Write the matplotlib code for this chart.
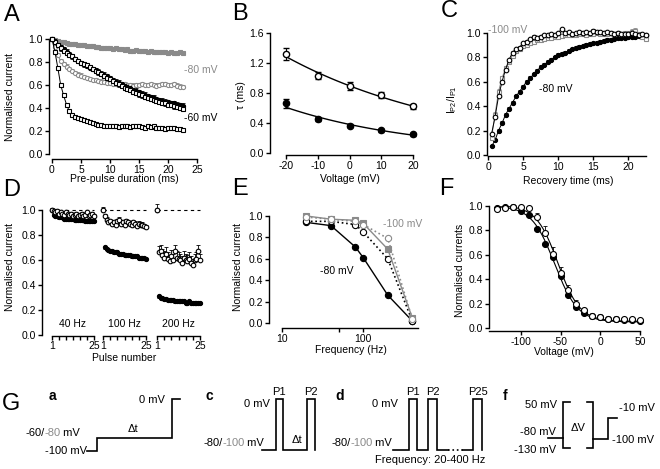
import numpy as np
import matplotlib
matplotlib.use('Agg')
import matplotlib.pyplot as plt
from matplotlib.ticker import FixedLocator, FuncFormatter, MultipleLocator, FormatStrFormatter

plt.rcParams['font.family'] = ['Liberation Sans', 'DejaVu Sans']
plt.rcParams['mathtext.fontset'] = 'custom'
plt.rcParams['mathtext.rm'] = 'Liberation Sans'
plt.rcParams['axes.unicode_minus'] = False
plt.rcParams['axes.linewidth'] = 1.0

GREY = '#8a8a8a'

# ---------------- data ----------------
# A: development of inactivation
a_time = np.arange(0, 23, 0.5)
a_grey_filled = [1.00, 0.99, 0.98, 0.975, 0.97, 0.965, 0.96, 0.96, 0.955, 0.95,
                 0.95, 0.945, 0.94, 0.94, 0.935, 0.93, 0.93, 0.925, 0.925, 0.92,
                 0.92, 0.915, 0.92, 0.91, 0.91, 0.905, 0.91, 0.90, 0.90, 0.905,
                 0.90, 0.895, 0.90, 0.89, 0.895, 0.89, 0.89, 0.885, 0.89, 0.885,
                 0.88, 0.885, 0.88, 0.88, 0.885, 0.88]
a_grey_open = [1.00, 0.93, 0.86, 0.81, 0.78, 0.76, 0.74, 0.72, 0.705, 0.69,
               0.68, 0.67, 0.66, 0.65, 0.645, 0.64, 0.635, 0.63, 0.625, 0.62,
               0.615, 0.61, 0.61, 0.605, 0.60, 0.605, 0.60, 0.60, 0.595, 0.60,
               0.60, 0.605, 0.60, 0.60, 0.605, 0.60, 0.595, 0.60, 0.605, 0.61,
               0.60, 0.60, 0.605, 0.595, 0.585, 0.58]
a_black_filled = [1.00, 0.98, 0.95, 0.93, 0.91, 0.89, 0.87, 0.85, 0.825, 0.805,
                  0.79, 0.78, 0.765, 0.75, 0.74, 0.73, 0.715, 0.70, 0.69, 0.675,
                  0.66, 0.645, 0.63, 0.62, 0.605, 0.59, 0.58, 0.57, 0.56, 0.55,
                  0.535, 0.525, 0.515, 0.505, 0.495, 0.49, 0.48, 0.47, 0.465, 0.455,
                  0.45, 0.445, 0.44, 0.43, 0.425, 0.42]
a_black_open = [1.00, 0.97, 0.95, 0.92, 0.90, 0.88, 0.865, 0.85, 0.83, 0.81,
                0.795, 0.78, 0.77, 0.755, 0.74, 0.725, 0.71, 0.695, 0.68, 0.665,
                0.65, 0.635, 0.62, 0.605, 0.59, 0.575, 0.565, 0.555, 0.54, 0.53,
                0.52, 0.51, 0.50, 0.49, 0.48, 0.47, 0.46, 0.455, 0.445, 0.44,
                0.43, 0.425, 0.415, 0.41, 0.40, 0.395]
a_black_fast = [1.00, 0.89, 0.75, 0.60, 0.51, 0.43, 0.37, 0.34, 0.325, 0.315,
                0.305, 0.30, 0.29, 0.28, 0.27, 0.26, 0.255, 0.25, 0.245, 0.24,
                0.245, 0.24, 0.24, 0.235, 0.24, 0.245, 0.24, 0.235, 0.24, 0.245,
                0.24, 0.235, 0.23, 0.24, 0.235, 0.24, 0.23, 0.225, 0.23, 0.22,
                0.225, 0.23, 0.225, 0.22, 0.215, 0.21]

# B: time constants
b_volt = [-20, -10, 0, 10, 20]
b_tau_open = [1.32, 1.03, 0.89, 0.77, 0.62]
b_err_open = [0.08, 0.05, 0.05, 0.04, 0.03]
b_tau_filled = [0.66, 0.45, 0.36, 0.30, 0.25]
b_err_filled = [0.06, 0.03, 0.02, 0.02, 0.02]

# C: recovery from inactivation
c_time = np.arange(0.5, 23, 0.5)
c_black_open = [0.17, 0.31, 0.48, 0.60, 0.70, 0.78, 0.84, 0.87, 0.88, 0.92,
                0.93, 0.95, 0.97, 0.96, 0.97, 0.98, 0.985, 0.99, 0.98, 1.00,
                1.03, 1.00, 1.01, 0.995, 1.00, 1.005, 1.00, 1.01, 1.00, 1.02,
                1.01, 1.01, 1.00, 1.01, 1.00, 0.99, 1.00, 0.99, 0.995, 0.99,
                1.00, 0.99, 0.98, 0.99, 0.98]
c_grey = [0.14, 0.33, 0.52, 0.63, 0.71, 0.76, 0.81, 0.85, 0.87, 0.89,
          0.905, 0.92, 0.93, 0.94, 0.945, 0.95, 0.96, 0.96, 0.97, 0.97,
          0.975, 0.98, 0.98, 0.985, 0.98, 0.99, 0.99, 0.985, 0.99, 0.99,
          1.00, 0.99, 0.995, 0.99, 1.00, 0.99, 1.00, 0.99, 1.00, 1.00,
          1.01, 1.02, 0.99, 0.97, 0.95]
c_black_filled = [0.07, 0.12, 0.20, 0.26, 0.33, 0.38, 0.43, 0.48, 0.52, 0.56,
                  0.60, 0.63, 0.66, 0.69, 0.72, 0.74, 0.76, 0.78, 0.80, 0.82,
                  0.83, 0.84, 0.855, 0.865, 0.875, 0.885, 0.89, 0.90, 0.91, 0.915,
                  0.92, 0.93, 0.935, 0.94, 0.945, 0.95, 0.955, 0.96, 0.96, 0.965,
                  0.97, 0.97, 0.975, 0.975, 0.98]

# D: trains of 25 pulses
d_pulse = np.arange(1, 26)
d_groups = ['40 Hz', '100 Hz', '200 Hz']
d_open = [
    [1.00, 0.99, 0.98, 0.99, 0.97, 0.98, 0.97, 0.96, 0.98, 0.97, 0.96, 0.97, 0.95,
     0.96, 0.97, 0.95, 0.96, 0.97, 0.95, 0.96, 0.98, 0.95, 0.96, 0.97, 0.95],
    [1.00, 0.95, 0.92, 0.90, 0.91, 0.89, 0.90, 0.88, 0.91, 0.92, 0.89, 0.90, 0.88,
     0.91, 0.90, 0.89, 0.88, 0.90, 0.89, 0.87, 0.89, 0.88, 0.88, 0.87, 0.86],
    [1.00, 0.66, 0.67, 0.64, 0.62, 0.65, 0.61, 0.59, 0.63, 0.60, 0.67, 0.62, 0.61,
     0.60, 0.58, 0.62, 0.60, 0.59, 0.61, 0.58, 0.56, 0.60, 0.61, 0.67, 0.60],
]
d_filled = [
    [1.00, 0.96, 0.95, 0.95, 0.94, 0.94, 0.94, 0.93, 0.93, 0.93, 0.93, 0.93, 0.93,
     0.92, 0.92, 0.92, 0.92, 0.92, 0.92, 0.91, 0.91, 0.91, 0.91, 0.91, 0.91],
    [1.00, 0.70, 0.69, 0.68, 0.67, 0.67, 0.66, 0.66, 0.66, 0.65, 0.65, 0.65, 0.64,
     0.64, 0.64, 0.64, 0.63, 0.63, 0.63, 0.63, 0.62, 0.62, 0.62, 0.62, 0.61],
    [1.00, 0.31, 0.30, 0.30, 0.29, 0.29, 0.28, 0.28, 0.28, 0.28, 0.27, 0.27, 0.27,
     0.27, 0.27, 0.27, 0.26, 0.26, 0.27, 0.26, 0.26, 0.26, 0.26, 0.26, 0.26],
]
d_err_open = [0.015, 0.02, 0.05]

# E: frequency dependence
e_freq = [20, 40, 80, 100, 200, 400]
e_black_filled = [0.94, 0.91, 0.71, 0.61, 0.26, 0.02]
e_black_open = [0.95, 0.95, 0.92, 0.85, 0.60, 0.02]
e_grey_filled = [1.00, 0.97, 0.96, 0.93, 0.69, 0.05]
e_grey_open = [0.99, 0.97, 0.95, 0.92, 0.79, 0.04]

# F: steady-state inactivation
f_volt = np.arange(-130, 51, 10)
f_open = [0.975, 0.98, 0.995, 0.99, 0.98, 0.91, 0.78, 0.61, 0.45, 0.31,
          0.20, 0.145, 0.10, 0.09, 0.077, 0.07, 0.07, 0.07, 0.065]
f_filled = [0.98, 0.99, 0.99, 0.955, 0.925, 0.81, 0.69, 0.58, 0.425, 0.27,
            0.17, 0.12, 0.10, 0.09, 0.075, 0.07, 0.065, 0.065, 0.06]
f_err_open = [0.01, 0.01, 0.01, 0.01, 0.015, 0.03, 0.06, 0.05, 0.05, 0.04,
              0.03, 0.02, 0.015, 0.01, 0.01, 0.01, 0.01, 0.01, 0.01]

# ---------------- helpers ----------------
W, H = 660, 469
fig = plt.figure(figsize=(W / 100, H / 100), dpi=100)


def add_ax(x0, y0, x1, y1):
    # box in pixels measured from the top left corner
    return fig.add_axes([x0 / W, 1 - y1 / H, (x1 - x0) / W, (y1 - y0) / H])


def prism(ax, left=0, bottom=0):
    ax.spines[['top', 'right']].set_visible(False)
    ax.spines['left'].set_position(('outward', left * 0.72))
    ax.spines['bottom'].set_position(('outward', bottom * 0.72))
    ax.tick_params(length=3, width=1, labelsize=7.5, pad=1.2)
    ax.patch.set_alpha(0)


def ftext(x, y, s, **kw):
    kw.setdefault('fontsize', 7.5)
    kw.setdefault('va', 'center')
    return fig.text(x / W, 1 - y / H, s, **kw)


def series(ax, x, y, err=None, up=True, marker='o', face='k', edge='k', ms=3,
           lc='k', ls='-', lw=0.7, z=3):
    if err is not None:
        e = np.asarray(err, float) * np.ones(len(y))
        zero = np.zeros(len(y))
        cont = ax.errorbar(x, y, yerr=[zero, e] if up else [e, zero], fmt='none',
                           ecolor=edge, elinewidth=0.6, capsize=1.2, capthick=0.6, zorder=z)
        for ch in cont.get_children():
            ch.set_clip_on(False)
    ax.plot(x, y, ls=ls, color=lc, lw=lw, marker=marker, ms=ms, mfc=face, mec=edge,
            mew=0.8, clip_on=False, zorder=z + 0.1)


one_dec = FormatStrFormatter('%.1f')

# ---------------- A ----------------
axA = add_ax(52, 39, 197, 154)
prism(axA, left=3, bottom=5)
axA.set_xlim(0, 25)
axA.set_ylim(0, 1)
axA.xaxis.set_major_locator(MultipleLocator(5))
axA.yaxis.set_major_locator(MultipleLocator(0.2))
axA.yaxis.set_major_formatter(one_dec)
series(axA, a_time, a_grey_filled, 0.008, True, 's', GREY, GREY, 3, GREY)
series(axA, a_time, a_grey_open, 0.02, True, 'o', 'white', GREY, 3, GREY)
series(axA, a_time, a_black_filled, 0.02, True, 'o', 'k', 'k', 3)
series(axA, a_time, a_black_open, 0.02, False, 's', 'white', 'k', 3)
series(axA, a_time, a_black_fast, 0.01, False, 's', 'white', 'k', 3)
ftext(184, 70, '-80 mV', color=GREY)
ftext(184, 118, '-60 mV')
ftext(10, 97, 'Normalised current', rotation=90, ha='center')
ftext(124, 179, 'Pre-pulse duration (ms)', ha='center')

# ---------------- B ----------------
axB = add_ax(286, 33, 413, 153)
prism(axB, left=16, bottom=2)
axB.set_xlim(-20, 20)
axB.set_ylim(0, 1.6)
axB.xaxis.set_major_locator(MultipleLocator(10))
axB.yaxis.set_major_locator(MultipleLocator(0.4))
axB.yaxis.set_major_formatter(one_dec)
vv = np.linspace(-20, 20, 100)
for tau, err, face in [(b_tau_open, b_err_open, 'white'), (b_tau_filled, b_err_filled, 'k')]:
    k, c0 = np.polyfit(b_volt, np.log(tau), 1)
    axB.plot(vv, np.exp(c0 + k * vv), color='k', lw=1.0, clip_on=False)
    cont = axB.errorbar(b_volt, tau, yerr=err, fmt='o', ms=4.5, mfc=face, mec='k',
                        mew=1.0, ecolor='k', elinewidth=0.8, capsize=2, zorder=3)
    for ch in cont.get_children():
        ch.set_clip_on(False)
ftext(241, 95, 'τ (ms)', rotation=90, ha='center')
ftext(350, 179, 'Voltage (mV)', ha='center')

# ---------------- C ----------------
axC = add_ax(488, 33, 645.5, 155)
prism(axC, left=1, bottom=1)
axC.set_xlim(0, 22.5)
axC.set_ylim(0, 1)
axC.set_xticks([0, 5, 10, 15, 20])
axC.yaxis.set_major_locator(MultipleLocator(0.2))
axC.yaxis.set_major_formatter(one_dec)
series(axC, c_time, c_black_filled, 0.015, True, 'o', 'k', 'k', 3)
series(axC, c_time, c_grey, 0.02, True, 's', 'white', GREY, 3, GREY)
series(axC, c_time, c_black_open, 0.01, True, 'o', 'white', 'k', 3.3)
ftext(488, 30, '-100 mV', color=GREY)
ftext(539, 89, '-80 mV')
ftext(452, 100, r'$\mathregular{I_{P2}/I_{P1}}$', rotation=90, ha='center')
ftext(568, 181, 'Recovery time (ms)', ha='center')

# ---------------- D ----------------
for i, (x0, x1) in enumerate([(52, 94), (103, 146), (157, 200)]):
    ax = add_ax(x0, 210, x1, 335)
    prism(ax, left=10, bottom=1)
    ax.set_xlim(1, 25)
    ax.set_ylim(0, 1)
    ax.xaxis.set_major_locator(FixedLocator([1, 5, 9, 13, 17, 21, 25]))
    ax.xaxis.set_major_formatter(FuncFormatter(lambda v, p: f'{v:.0f}' if v in (1, 25) else ''))
    ax.tick_params(axis='x', pad=0.8)
    if i == 0:
        ax.yaxis.set_major_locator(MultipleLocator(0.2))
        ax.yaxis.set_major_formatter(one_dec)
    else:
        ax.spines['left'].set_visible(False)
        ax.set_yticks([])
    ax.plot([1, 25], [1, 1], color='k', lw=0.8, ls=(0, (3, 3)), clip_on=False)
    series(ax, d_pulse, d_filled[i], 0.01, False, 'o', 'k', 'k', 3, 'none')
    series(ax, d_pulse, d_open[i], d_err_open[i], True, 'o', 'white', 'k', 3.3, 'none')
    ax.text(13, 0.09, d_groups[i], ha='center', va='center', fontsize=7.5)
ftext(10, 267, 'Normalised current', rotation=90, ha='center')
ftext(124, 358, 'Pulse number', ha='center')

# ---------------- E ----------------
axE = add_ax(282, 216, 418, 323)
prism(axE, left=13, bottom=5)
axE.set_xscale('log')
axE.set_xlim(10, 471)
axE.set_ylim(0, 1)
axE.xaxis.set_major_locator(FixedLocator([10, 100]))
axE.xaxis.set_major_formatter(FormatStrFormatter('%d'))
axE.xaxis.set_minor_locator(FixedLocator([50]))
axE.tick_params(which='minor', length=3, width=1)
axE.yaxis.set_major_locator(MultipleLocator(0.2))
axE.yaxis.set_major_formatter(one_dec)
series(axE, e_freq, e_black_filled, None, True, 'o', 'k', 'k', 4.5, 'k', '-', 1.0)
series(axE, e_freq, e_black_open, None, True, 'o', 'white', 'k', 4.5, 'k', ':', 1.2)
series(axE, e_freq, e_grey_filled, None, True, 's', GREY, GREY, 4.5, GREY, '-', 1.0)
series(axE, e_freq, e_grey_open, None, True, 'o', 'white', GREY, 4.5, GREY, ':', 1.2)
ftext(383, 224, '-100 mV', color=GREY)
ftext(320, 271, '-80 mV')
ftext(238, 267, 'Normalised current', rotation=90, ha='center')
ftext(351, 350, 'Frequency (Hz)', ha='center')

# ---------------- F ----------------
axF = add_ax(489, 206, 640, 328)
prism(axF, left=0, bottom=3)
axF.set_xlim(-140, 50)
axF.set_ylim(0, 1)
axF.set_xticks([-100, -50, 0, 50])
axF.yaxis.set_major_locator(MultipleLocator(0.2))
axF.yaxis.set_major_formatter(one_dec)


def boltzmann_fit(v, y):
    v = np.asarray(v, float)
    y = np.asarray(y, float)
    lo, hi = y.min() - 0.01, y.max() + 0.01
    m = (y > lo + 0.05) & (y < hi - 0.05)
    k, c0 = np.polyfit(v[m], np.log((hi - lo) / (y[m] - lo) - 1), 1)
    grid = np.linspace(v.min(), v.max(), 200)
    return grid, lo + (hi - lo) / (1 + np.exp(k * grid + c0))


for y in (f_filled, f_open):
    gx, gy = boltzmann_fit(f_volt, y)
    axF.plot(gx, gy, color='k', lw=0.8)
series(axF, f_volt, f_filled, 0.015, False, 'o', 'k', 'k', 4.3, 'none')
series(axF, f_volt, f_open, f_err_open, True, 'o', 'white', 'k', 4.3, 'none')
ftext(460, 270, 'Normalised currents', rotation=90, ha='center')
ftext(564, 352, 'Voltage (mV)', ha='center')

# ---------------- panel letters ----------------
for s, x, y in [('A', 12, 15), ('B', 240, 14), ('C', 449, 11),
                ('D', 12, 190), ('E', 240, 189), ('F', 446, 189)]:
    ftext(x, y, s, fontsize=17, ha='center')

# ---------------- G: voltage protocols (schematic, pixel space) ----------------
axG = fig.add_axes([0, 0, 1, 1])
axG.set_xlim(0, W)
axG.set_ylim(H, 0)
axG.axis('off')

prot_paths = [
    ([87, 97, 97, 172, 172, 180], [451, 451, 438, 438, 399, 399], '-'),
    ([262, 276, 276, 283, 283, 307, 307, 315, 315], [450, 450, 399, 399, 450, 450, 399, 399, 450], '-'),
    ([393, 409, 409, 417, 417, 428, 428, 437, 437, 448], [450, 450, 399, 399, 450, 450, 399, 399, 450, 450], '-'),
    ([448, 463], [450, 450], ':'),
    ([463, 473, 473, 482, 482], [450, 450, 399, 399, 450], '-'),
    ([548, 563], [438, 438], '-'),
    ([570, 563, 563, 570], [402, 402, 448, 448], '-'),
    ([587, 593, 593, 587], [402, 402, 448, 448], '-'),
    ([593, 608, 608, 617], [439, 439, 418, 418], '-'),
]
for xs, ys, ls in prot_paths:
    axG.plot(xs, ys, color='k', lw=1.2, ls=ls, solid_joinstyle='miter')


def gtext(x, y, s, **kw):
    kw.setdefault('fontsize', 8)
    kw.setdefault('va', 'center')
    return axG.text(x, y, s, **kw)


def multicolour(x, y, parts):
    t = axG.text(x, y, parts[0][0], color=parts[0][1], fontsize=8, va='center')
    for s, c in parts[1:]:
        t = axG.annotate(s, xy=(1, 0), xycoords=t, color=c, fontsize=8, va='bottom')


gtext(11, 404, 'G', fontsize=17, ha='center')
for s, x in [('a', 52), ('c', 209), ('d', 340), ('f', 505)]:
    gtext(x, 396, s, fontsize=10, fontweight='bold', ha='center')

gtext(165, 400, '0 mV', ha='right')
multicolour(25, 433, [('-60/', 'k'), ('-80', GREY), (' mV', 'k')])
gtext(87, 451, '-100 mV', ha='right')
gtext(133, 429, 'Δt', ha='center')

gtext(270, 404, '0 mV', ha='right')
gtext(279, 392, 'P1', ha='center')
gtext(311, 392, 'P2', ha='center')
multicolour(203, 443, [('-80/', 'k'), ('-100', GREY), (' mV', 'k')])
gtext(297, 440, 'Δt', ha='center')

gtext(398, 404, '0 mV', ha='right')
gtext(413, 392, 'P1', ha='center')
gtext(433, 392, 'P2', ha='center')
gtext(478, 392, 'P25', ha='center')
multicolour(331, 443, [('-80/', 'k'), ('-100', GREY), (' mV', 'k')])
gtext(430, 460, 'Frequency: 20-400 Hz', ha='center')

gtext(557, 405, '50 mV', ha='right')
gtext(556, 432, '-80 mV', ha='right')
gtext(556, 450, '-130 mV', ha='right')
gtext(578, 428, 'ΔV', ha='center')
gtext(619, 408, '-10 mV', ha='left')
gtext(612, 440, '-100 mV', ha='left')

fig.savefig('out.png', dpi=100)
